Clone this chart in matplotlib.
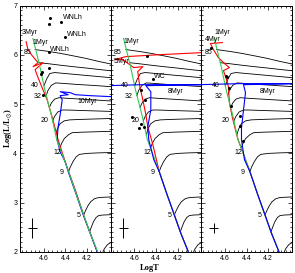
import matplotlib
matplotlib.use("Agg")
import matplotlib.pyplot as plt
from matplotlib.ticker import MultipleLocator, FixedLocator

plt.rcParams['font.family'] = ['Liberation Sans', 'DejaVu Sans']
plt.rcParams['mathtext.fontset'] = 'stix'

# ZAMS (green), same in every panel
ZAMS_T = [4.70, 4.64, 4.59, 4.53, 4.48, 4.42, 4.37, 4.30, 4.23, 4.17, 4.10, 4.05]
ZAMS_L = [6.33, 5.80, 5.29, 4.78, 4.28, 3.93, 3.63, 3.18, 2.75, 2.38, 2.00, 1.70]

# evolutionary tracks (black): 85 60 40 32 25 20 15 12 9 5 4 3 Msun
TRACK_T = [
    [4.680, 4.560, 4.448, 4.330, 4.215, 4.100, 3.95],
    [4.645, 4.56, 4.45, 4.33, 4.20, 4.08, 3.95],
    [4.598, 4.575, 4.545, 4.50, 4.40, 4.25, 4.10, 3.95],
    [4.578, 4.56, 4.53, 4.49, 4.42, 4.30, 4.15, 3.95],
    [4.548, 4.53, 4.50, 4.46, 4.40, 4.25, 4.10, 3.95],
    [4.518, 4.50, 4.47, 4.43, 4.38, 4.25, 4.10, 3.95],
    [4.49, 4.475, 4.45, 4.41, 4.36, 4.25, 4.10, 3.95],
    [4.451, 4.435, 4.41, 4.37, 4.336, 4.25, 4.10, 3.95],
    [4.37, 4.355, 4.33, 4.30, 4.27, 4.20, 4.10, 3.95],
    [4.23, 4.215, 4.19, 4.165, 4.13, 4.10, 4.05, 3.95],
    [4.175, 4.16, 4.14, 4.115, 4.09, 4.05, 3.95],
    [4.08, 4.06, 4.04, 4.01, 3.98, 3.95],
]
TRACK_L = [
    [6.106, 6.07, 6.03, 5.98, 5.93, 5.87, 5.80],
    [5.84, 5.82, 5.79, 5.76, 5.73, 5.70, 5.67],
    [5.37, 5.50, 5.62, 5.64, 5.62, 5.59, 5.56, 5.53],
    [5.17, 5.28, 5.38, 5.43, 5.42, 5.40, 5.38, 5.35],
    [4.93, 5.02, 5.10, 5.13, 5.12, 5.10, 5.08, 5.06],
    [4.66, 4.75, 4.84, 4.88, 4.88, 4.87, 4.86, 4.85],
    [4.38, 4.49, 4.60, 4.66, 4.68, 4.69, 4.70, 4.71],
    [4.11, 4.20, 4.30, 4.38, 4.42, 4.43, 4.44, 4.45],
    [3.63, 3.72, 3.83, 3.93, 3.98, 4.00, 4.01, 4.02],
    [2.75, 2.83, 2.94, 3.02, 3.08, 3.10, 3.11, 3.12],
    [2.41, 2.50, 2.61, 2.70, 2.74, 2.75, 2.76],
    [1.88, 1.96, 2.06, 2.15, 2.19, 2.20],
]
MASS_TEXT = ['85', '40', '32', '20', '12', '9', '5']
MASS_T = [4.715, 4.65, 4.62, 4.555, 4.44, 4.415, 4.26]
MASS_L = [6.04, 5.37, 5.16, 4.66, 4.01, 3.62, 2.74]

# red isochrones (3, 5, 4 Myr)
RED_T = [
    [4.764, 4.746, 4.708, 4.653, 4.699, 4.606, 4.680, 4.653, 4.615, 4.569, 4.513, 4.467, 4.392, 4.308, 4.215, 4.104, 4.067],
    [3.964, 4.355, 4.680, 4.783, 4.708, 4.606, 4.522, 4.569, 4.550, 4.522, 4.494, 4.476, 4.429, 4.37, 4.30, 4.23, 4.17, 4.10, 4.05],
    [4.625, 4.736, 4.708, 4.662, 4.615, 4.560, 4.615, 4.587, 4.569, 4.560, 4.532, 4.504, 4.48, 4.42, 4.37, 4.30, 4.23, 4.17, 4.10, 4.05],
]
RED_L = [
    [6.268, 6.106, 5.984, 5.841, 5.760, 5.841, 5.699, 5.537, 5.333, 5.089, 4.663, 4.276, 3.768, 3.260, 2.650, 2.0, 1.80],
    [6.045, 6.004, 5.963, 5.902, 5.902, 5.740, 5.760, 5.659, 5.354, 5.089, 4.785, 4.541, 4.175, 3.63, 3.18, 2.75, 2.38, 2.00, 1.70],
    [6.248, 6.228, 6.106, 5.943, 5.841, 5.740, 5.679, 5.496, 5.354, 5.028, 4.724, 4.480, 4.28, 3.93, 3.63, 3.18, 2.75, 2.38, 2.00, 1.70],
]

# blue isochrones (10, 8, 8 Myr)
BLUE_T = [
    [3.964, 4.169, 4.308, 4.355, 4.448, 4.373, 4.448, 4.429, 4.448, 4.467, 4.476, 4.448, 4.401, 4.373, 4.308, 4.234, 4.104, 4.067],
    [4.839, 4.532, 3.964, 4.494, 4.448, 4.448, 4.476, 4.467, 4.420, 4.37, 4.30, 4.23, 4.17, 4.10, 4.05],
    [4.839, 4.467, 3.946, 4.429, 4.411, 4.429, 4.448, 4.448, 4.420, 4.37, 4.30, 4.23, 4.17, 4.10, 4.05],
]
BLUE_L = [
    [5.150, 5.171, 5.191, 5.232, 5.252, 5.191, 5.171, 5.089, 4.785, 4.541, 4.276, 4.033, 3.829, 3.626, 3.220, 2.752, 2.0, 1.80],
    [5.374, 5.394, 5.394, 5.374, 5.252, 4.886, 4.541, 4.276, 3.870, 3.63, 3.18, 2.75, 2.38, 2.00, 1.70],
    [5.394, 5.415, 5.415, 5.394, 5.232, 4.886, 4.520, 4.276, 3.870, 3.63, 3.18, 2.75, 2.38, 2.00, 1.70],
]

# observed stars
STAR_T = [
    [4.541, 4.547, 4.439, 4.399, 4.550, 4.547, 4.618, 4.627, 4.603],
    [4.479, 4.432, 4.541, 4.504, 4.618, 4.541, 4.557, 4.510],
    [4.727, 4.594, 4.578, 4.566, 4.547, 4.464, 4.464, 4.432],
]
STAR_L = [
    [6.750, 6.628, 6.675, 6.356, 6.059, 5.734, 5.644, 5.618, 5.191],
    [5.970, 5.510, 5.278, 5.089, 4.738, 4.602, 4.514, 4.526],
    [6.140, 5.563, 5.551, 5.327, 4.953, 4.750, 4.547, 4.242],
]

# annotations
NOTE_TEXT = [
    ['3Myr', '1Myr', '10Myr', 'WNLh', 'WNLh', 'WNLh'],
    ['1Myr', '5Myr', '8Myr', 'WC'],
    ['1Myr', '4Myr', '8Myr'],
]
NOTE_T = [
    [4.80, 4.708, 4.29, 4.42, 4.383, 4.541],
    [4.70, 4.79, 4.29, 4.42],
    [4.70, 4.79, 4.28],
]
NOTE_L = [
    [6.45, 6.25, 5.05, 6.76, 6.41, 6.11],
    [6.26, 5.86, 5.25, 5.56],
    [6.45, 6.31, 5.25],
]

# typical error bars
ERR_T = 4.705
ERR_L = 2.49
ERR_DT = 0.042
ERR_DL = [0.2, 0.2, 0.1]

GREEN = '#33cc55'

fig = plt.figure(figsize=(2.95, 2.73), dpi=100)
left, bottom, top, right = 20 / 295, 21 / 273, 5.5 / 273, 292 / 295
w = (right - left) / 3
h = 1 - bottom - top

for i in range(3):
    ax = fig.add_axes([left + i * w, bottom, w, h])
    for tt, ll in zip(TRACK_T, TRACK_L):
        ax.plot(tt, ll, color='black', lw=0.6)
    ax.plot(RED_T[i], RED_L[i], color='red', lw=0.8)
    if i == 0:
        ax.plot(BLUE_T[i], BLUE_L[i], color='blue', lw=0.8)
        ax.plot(ZAMS_T, ZAMS_L, color=GREEN, lw=0.8)
    else:
        ax.plot(ZAMS_T, ZAMS_L, color=GREEN, lw=0.8)
        ax.plot(BLUE_T[i], BLUE_L[i], color='blue', lw=0.8)
    ax.plot(STAR_T[i], STAR_L[i], 'o', color='black', ms=2.2, mew=0)

    for s, t, l in zip(MASS_TEXT, MASS_T, MASS_L):
        ax.text(t, l, s, fontsize=5, ha='right', va='center')
    for s, t, l in zip(NOTE_TEXT[i], NOTE_T[i], NOTE_L[i]):
        ax.text(t, l, s, fontsize=5, ha='left', va='center')

    ax.errorbar([ERR_T], [ERR_L], xerr=ERR_DT, yerr=ERR_DL[i], fmt='none',
                ecolor='black', elinewidth=0.7, capsize=0)

    ax.set_xlim(4.82, 3.98)
    ax.set_ylim(2, 7)
    ax.xaxis.set_major_locator(FixedLocator([4.6, 4.4, 4.2]))
    ax.xaxis.set_minor_locator(MultipleLocator(0.04))
    ax.yaxis.set_major_locator(MultipleLocator(1))
    ax.yaxis.set_minor_locator(MultipleLocator(0.1))
    ax.tick_params(which='both', direction='in', top=True, right=True,
                   labelsize=5, pad=2, width=0.5)
    ax.tick_params(which='major', length=3)
    ax.tick_params(which='minor', length=1.5)
    for sp in ax.spines.values():
        sp.set_linewidth(0.7)
    if i > 0:
        ax.set_yticklabels([])

fig.text(8 / 295, 1 - 128 / 273, r'Log(L/L$_{\odot}$)', rotation=90,
         ha='center', va='center', fontsize=6, fontweight='bold',
         family='Liberation Serif')
fig.text(150 / 295, 1 - 268 / 273, 'LogT', ha='center', va='center',
         fontsize=6, fontweight='bold', family='Liberation Serif')

fig.savefig('out.png', dpi=100)
